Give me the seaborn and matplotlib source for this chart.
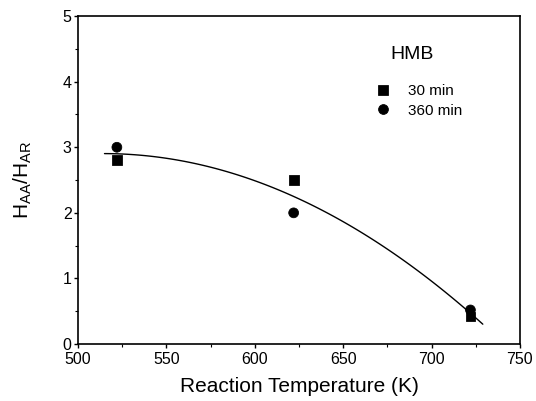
import numpy as np
import pandas as pd
import seaborn as sns
import matplotlib.pyplot as plt
from matplotlib.ticker import MultipleLocator

# data
temps = [522, 622, 722]
ratio_30 = [2.8, 2.5, 0.42]
ratio_360 = [3.0, 2.0, 0.52]
series = ["30 min", "360 min"]

# extent of the fitted trend line in the original
fit_range = (515, 729)

sns.set_style("ticks", rc={"axes.edgecolor": "black", "axes.labelcolor": "black", "text.color": "black",
                           "xtick.color": "black", "ytick.color": "black"})
plt.rcParams['font.family'] = ['Liberation Sans', 'DejaVu Sans']
plt.rcParams['mathtext.fontset'] = 'custom'
plt.rcParams['mathtext.rm'] = 'Liberation Sans'

frame = pd.DataFrame({
    "temp": temps * 2,
    "ratio": ratio_30 + ratio_360,
    "time": [series[0]] * 3 + [series[1]] * 3,
})

fig, ax = plt.subplots(figsize=(5.36, 4.01), dpi=100)
fig.subplots_adjust(left=0.1455, right=0.970, top=0.96, bottom=0.142)

# second order fit through all points, drawn over the same span as the original
ax.set_xlim(*fit_range)
sns.regplot(data=frame, x="temp", y="ratio", order=2, ci=None, scatter=False, truncate=False,
            line_kws={"color": "black", "linewidth": 1.0}, ax=ax)

sns.scatterplot(data=frame, x="temp", y="ratio", style="time", markers={series[0]: "s", series[1]: "o"},
                color="black", s=50, edgecolor="black", ax=ax)

ax.set_xlim(500, 750)
ax.set_ylim(0, 5)
ax.xaxis.set_major_locator(MultipleLocator(50))
ax.xaxis.set_minor_locator(MultipleLocator(25))
ax.yaxis.set_major_locator(MultipleLocator(1))
ax.yaxis.set_minor_locator(MultipleLocator(0.5))
ax.tick_params(which="major", direction="out", length=3, width=1, labelsize=11.5)
ax.tick_params(axis="x", which="major", pad=3)
ax.tick_params(axis="y", which="major", pad=1.5)
ax.tick_params(which="minor", direction="out", length=2, width=0.8)
for sp in ax.spines.values():
    sp.set_linewidth(1.2)

ax.set_xlabel("Reaction Temperature (K)", fontsize=15, labelpad=7)
ax.set_ylabel(r"$\mathregular{H_{AA}/H_{AR}}$", fontsize=15, labelpad=21)

ax.text(0.706, 0.882, "HMB", transform=ax.transAxes, fontsize=14, ha="left", va="center")
ax.legend(loc="upper left", bbox_to_anchor=(0.639, 0.815), frameon=False, borderpad=0,
          fontsize=11, handlelength=2.0, handletextpad=0.63, labelspacing=0.35, markerscale=1.0)

fig.savefig("out.png", dpi=100)
